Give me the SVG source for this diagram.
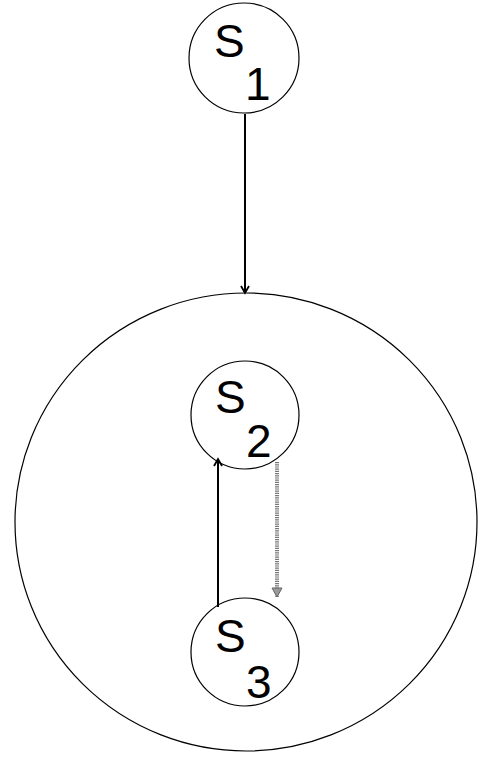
<svg xmlns="http://www.w3.org/2000/svg" width="478" height="764" viewBox="0 0 478 764">
<style>
.n{fill:#fff;stroke:#000;stroke-width:1.2}
.t{font-family:"Liberation Sans",Arial,sans-serif;font-size:46px;fill:#000}
.e{fill:none;stroke:#000;stroke-width:2}
.d{fill:none;stroke:#777;stroke-width:4;stroke-dasharray:1.2 1}
</style>
<defs>
<marker id="a" markerWidth="10" markerHeight="10" refX="8" refY="5" orient="auto" markerUnits="userSpaceOnUse"><path d="M1,1 L8,5 L1,9" fill="none" stroke="#000" stroke-width="1.8"/></marker>
<marker id="g" markerWidth="12" markerHeight="12" refX="10" refY="6" orient="auto" markerUnits="userSpaceOnUse"><path d="M1,1 L10,6 L1,11 Z" fill="#999" stroke="#666" stroke-width="1"/></marker>
</defs>
<g id="big"><ellipse class="n" cx="246" cy="522" rx="231" ry="229" fill="none"/></g>
<g id="s1"><circle class="n" cx="244" cy="58" r="55"/><text class="t" x="214" y="57">S</text><text class="t" x="245" y="100">1</text></g>
<g id="s2"><circle class="n" cx="245" cy="415" r="54"/><text class="t" x="215" y="413">S</text><text class="t" x="246" y="457">2</text></g>
<g id="s3"><circle class="n" cx="245" cy="652" r="54"/><text class="t" x="215" y="652">S</text><text class="t" x="246" y="698">3</text></g>
<g id="edges">
<line class="e" x1="245" y1="114" x2="245" y2="293" marker-end="url(#a)"/>
<line class="e" x1="218" y1="607" x2="218" y2="459" marker-end="url(#a)"/>
<line class="d" x1="277" y1="462" x2="277" y2="597" marker-end="url(#g)"/>
</g>
</svg>
